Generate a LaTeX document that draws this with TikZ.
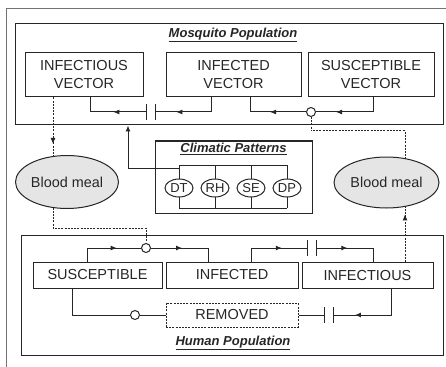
\documentclass[tikz,border=0pt]{standalone}
\usepackage{fontspec}
\setmainfont{Liberation Sans}
\usetikzlibrary{arrows.meta,decorations.markings,shapes.geometric,backgrounds}
\definecolor{ink}{HTML}{262626}
\tikzset{
 lw/.style={line width=1pt},
 sbox/.style={draw=ink, lw, rectangle, inner sep=0pt, align=center, text=ink, font=\fontsize{14.5}{18}\selectfont},
 panel/.style={draw=ink, lw, rectangle, inner sep=0pt},
 ttl/.style={text=ink, font=\fontsize{13}{15}\selectfont\bfseries\itshape, inner sep=0pt},
 meal/.style={ellipse, draw=ink, lw, fill=black!10, inner sep=0pt, text=ink, font=\fontsize{14.4}{16}\selectfont},
 clim/.style={ellipse, draw=ink, lw, fill=white, minimum width=28pt, minimum height=18pt, inner sep=0pt, text=ink, font=\fontsize{13}{14}\selectfont},
 junc/.style={circle, draw=ink, lw, fill=white, minimum size=9pt, inner sep=0pt},
 capn/.style={rectangle, draw=none, minimum width=8pt, minimum height=16pt, inner sep=0pt},
 conn/.style={draw=ink, lw},
 dsh/.style={draw=ink, lw, dash pattern=on 2pt off 1.2pt},
 marr/.style={postaction={decorate}, decoration={markings, mark=at position #1 with {\arrow{Latex[length=6pt,width=5pt]}}}},
 marr/.default=0.5,
}
\begin{document}
\begin{tikzpicture}[x=1pt,y=-1pt]
\useasboundingbox (0,0) rectangle (446,366);
\draw[black!55, lw] (6,372) -- (6,9) -- (452,9);
% panels
\node[panel, minimum width=428pt, minimum height=101pt] (mosq) at (229,74.5) {};
\node[panel, minimum width=422pt, minimum height=120pt] (human) at (232,295) {};
\node[ttl] (mt) at (233,35) {\underline{Mosquito Population}};
\node[ttl] (ht) at (233,343) {\underline{Human Population}};
% mosquito compartments
\node[sbox, minimum width=118pt, minimum height=44pt] (iv) at (84,75) {INFECTIOUS\\VECTOR};
\node[sbox, minimum width=135pt, minimum height=44pt] (dv) at (233.5,75) {INFECTED\\VECTOR};
\node[sbox, minimum width=126pt, minimum height=44pt] (sv) at (371,75) {SUSCEPTIBLE\\VECTOR};
\node[capn] (k1) at (151,112) {};
\node[junc] (c1) at (311,112) {};
\draw[conn] (k1.north west) -- (k1.south west) (k1.north east) -- (k1.south east);
\draw[conn, marr=0.70] ([xshift=-22.5pt]dv.south) |- (k1.east);
\draw[conn, marr=0.47] (k1.west) -| ([xshift=6pt]iv.south);
\draw[conn, marr=0.72] ([xshift=2pt]sv.south) |- (c1.east);
\draw[conn, marr=0.51] (c1.west) -| ([xshift=16.5pt]dv.south);
% blood meals
\node[meal, minimum width=103pt, minimum height=53pt] (bm1) at (67,182) {Blood meal};
\node[meal, minimum width=105pt, minimum height=51pt] (bm2) at (386.5,182.5) {Blood meal};
% climatic patterns
\node[panel, minimum width=157pt, minimum height=72pt] (cb) at (233.5,177) {};
\node[ttl] (ct) at (233.5,149) {\underline{Climatic Patterns}};
\node[clim] (dt) at (179,188) {DT};
\node[clim] (rh) at (215,188) {RH};
\node[clim] (se) at (251,188) {SE};
\node[clim] (dp) at (287,188) {DP};
\coordinate (bT) at (0,165);
\coordinate (bB) at (0,208);
\coordinate (fd) at (128,168);
% human compartments
\node[sbox, minimum width=129pt, minimum height=26pt] (hsu) at (97.5,275) {SUSCEPTIBLE};
\node[sbox, minimum width=132pt, minimum height=26pt] (hin) at (232,275) {INFECTED};
\node[sbox, minimum width=131pt, minimum height=26pt] (his) at (367.5,275.5) {INFECTIOUS};
\node[sbox, dash pattern=on 2pt off 1.2pt, minimum width=132pt, minimum height=24pt] (rm) at (232,315) {REMOVED};
\node[junc] (c2) at (146,248) {};
\node[junc] (c3) at (135,315) {};
\node[capn] (k2) at (312,248) {};
\node[capn] (k3) at (329,315) {};
\draw[conn] (k2.north west) -- (k2.south west) (k2.north east) -- (k2.south east);
\draw[conn] (k3.north west) -- (k3.south west) (k3.north east) -- (k3.south east);
\draw[conn, marr=0.64] ([xshift=-10.5pt]hsu.north) |- (c2.west);
\draw[conn, marr=0.44] (c2.east) -| ([xshift=-24pt]hin.north);
\draw[conn, marr=0.63] ([xshift=19pt]hin.north) |- (k2.west);
\draw[conn, marr=0.44] (k2.east) -| ([xshift=5.5pt]his.north);
\draw[conn, marr=0.74] ([xshift=23.5pt]his.south) |- (k3.east);
\draw[conn] (k3.west) -- (rm.east);
\draw[conn] (rm.west) -- (c3.east);
\draw[conn] (c3.west) -| ([xshift=-25.5pt]hsu.south);
% background connectors
\coordinate (d1) at ([xshift=-31pt]iv.south);
\coordinate (d2) at ([xshift=-14pt]bm1.center);
\coordinate (j2) at (146,228);
\coordinate (j3) at (405,131);
\coordinate (d4) at ([xshift=37.5pt]his.north);
\begin{scope}[on background layer]
\draw[conn] (dt.center |- bT) -- (dp.center |- bT);
\draw[conn] (dt.center |- bB) -- (dp.center |- bB);
\foreach \n in {dt,rh,se,dp} \draw[conn] (\n.center |- bT) -- (\n.center |- bB);
\draw[conn, -{Latex[length=6pt,width=5pt]}] (dt.center |- fd) -- (fd) -- (fd |- mosq.south);
\draw[dsh, marr=0.55] (d1) -- (d1 |- bm1.center);
\draw[dsh] (d2) |- (j2) -- (c2.north);
\draw[dsh] (c1.south) |- (j3) -- (j3 |- bm2.center);
\draw[dsh, marr=0.6] (d4) -- (d4 |- bm2.center);
\end{scope}
\end{tikzpicture}
\end{document}
